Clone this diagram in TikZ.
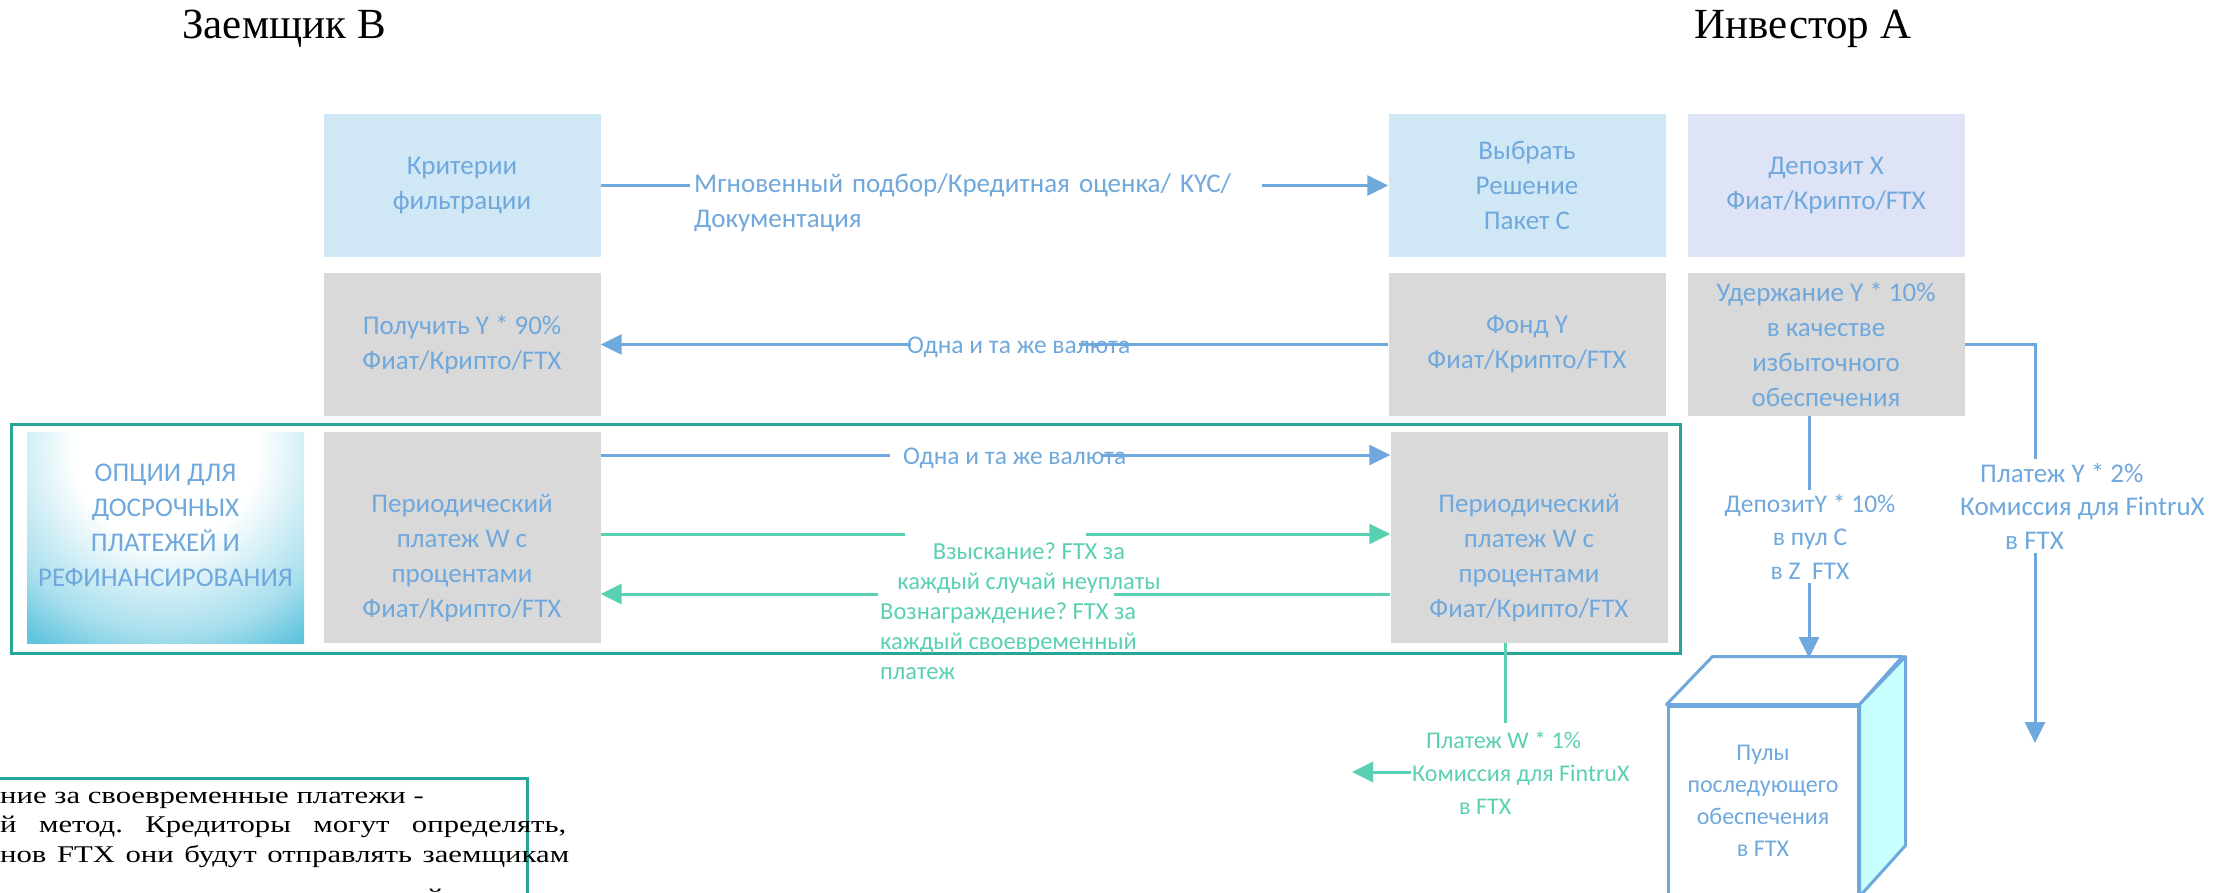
\documentclass[tikz,border=0pt]{standalone}
\usepackage{fontspec}
\setmainfont{Liberation Serif}
\newfontfamily\calib{Carlito}
\newfontfamily\notefont[FakeStretch=1.28]{Liberation Serif}
\usetikzlibrary{arrows.meta, positioning}
\definecolor{txtblue}{RGB}{111,168,220}
\definecolor{boxblue}{RGB}{208,232,246}
\definecolor{boxlilac}{RGB}{222,228,246}
\definecolor{boxgray}{RGB}{217,217,217}
\definecolor{mint}{RGB}{90,208,178}
\definecolor{framegreen}{RGB}{38,166,150}
\definecolor{cubecyan}{RGB}{200,255,255}
\definecolor{optcyan}{RGB}{96,196,222}
\pgfdeclareradialshading{optglow}{\pgfpointorigin}{color(0bp)=(white); color(5bp)=(white);
  color(10bp)=(optcyan!55!white); color(12.5bp)=(optcyan); color(50bp)=(optcyan)}
\frenchspacing

\begin{document}
\begin{tikzpicture}[x=1pt, y=-1pt,
    btxt/.style={text=txtblue, align=center, font=\calib\fontsize{27}{35}\selectfont},
    box/.style={btxt, minimum width=277pt, minimum height=143pt, inner sep=2pt},
    blbl/.style={text=txtblue, fill=white, inner sep=4pt, font=\calib\fontsize{27}{33.5}\selectfont},
    tlbl/.style={text=mint, inner sep=0pt, font=\calib\fontsize{24.5}{30}\selectfont},
    gap/.style={fill=white, inner sep=0pt, minimum height=9pt},
    barr/.style={draw=txtblue, line width=3pt, -{Triangle[length=21pt, width=20pt]}},
    tarr/.style={barr, draw=mint},
    headline/.style={font=\fontsize{43}{50}\selectfont, anchor=base}]
\useasboundingbox (0,0) rectangle (2230,893);
\clip (0,0) rectangle (2230,893);

\node[headline] (borrower) at (284,39) {Заемщик В};
\node[headline] (investor) at (1803,39) {Инвестор А};

% upper rows
\node[box, fill=boxblue] (crit) at (462,185.5) {Критерии\\фильтрации};
\node[box, fill=boxblue] (choose) at (1527,185.5) {Выбрать\\Решение\\Пакет С};
\node[box, fill=boxlilac] (depX) at (1826,185.5) {Депозит X\\Фиат/Крипто/FTX};
\node[box, fill=boxgray] (receive) at (462,344.5) {Получить Y * 90\%\\Фиат/Крипто/FTX};
\node[box, fill=boxgray] (fundY) at (1527,344.5) {Фонд Y\\Фиат/Крипто/FTX};
\node[box, fill=boxgray] (hold) at (1826,344.5) {Удержание Y * 10\%\\в качестве\\избыточного\\обеспечения};

% repayment row
\draw[framegreen, line width=3pt] (11,424) rectangle (1680,653);
\begin{scope}
  \clip (27,432) rectangle (304,643);
  \shade[shading=optglow] (166,450) circle (460);
\end{scope}
\node[btxt] (options) at (165.5,525.5) {ОПЦИИ ДЛЯ\\ДОСРОЧНЫХ\\ПЛАТЕЖЕЙ И\\РЕФИНАНСИРОВАНИЯ};
\node[box, fill=boxgray, minimum height=211pt,
  label={[btxt, yshift=-21pt]center:{Периодический\\платеж W с\\процентами\\Фиат/Крипто/FTX}}] (payL) at (462,537) {};
\node[box, fill=boxgray, minimum height=211pt,
  label={[btxt, yshift=-21pt]center:{Периодический\\платеж W с\\процентами\\Фиат/Крипто/FTX}}] (payR) at (1529,537) {};

% pool cube
\node[draw=txtblue, line width=3pt, fill=white, minimum width=190pt, minimum height=189pt,
  text=txtblue, align=center, font=\calib\fontsize{24}{32}\selectfont] (pool) at (1763,800.5)
  {Пулы\\последующего\\обеспечения\\в FTX};
\draw[txtblue, line width=3pt, line join=round, fill=white]
  (pool.north west) -- ++(46,-48) -- ++(190,0) -- (pool.north east) -- cycle;
\draw[txtblue, line width=3pt, line join=round, fill=cubecyan]
  (pool.north east) -- ++(46,-48) -- ++(0,189) -- (pool.south east) -- cycle;
\coordinate (pooltop) at (1809,658);
\coordinate (feeYend) at (2035,743);
\coordinate (feeWend) at (1352,772);

% connectors
\draw[barr] (crit) -- (choose);
\draw[barr] (fundY) -- (receive) node[gap, midway, minimum width=168pt] (gap1) {};
\draw[barr] ([yshift=82pt]payL.east) -- ([yshift=82pt]payR.west) node[gap, midway, minimum width=211pt] (gap2) {};
\draw[tarr] ([yshift=3pt]payL.east) -- ([yshift=3pt]payR.west) node[gap, midway, minimum width=181pt] (gap3) {};
\draw[tarr] ([yshift=-57pt]payR.west) -- ([yshift=-57pt]payL.east) node[gap, midway, minimum width=236pt] (gap4) {};
\draw[barr] (hold.south -| pooltop) -- (pooltop);
\draw[barr] (hold.east) -| (feeYend);
\draw[tarr] ([xshift=-24pt]payR.south) |- (feeWend);

% labels
\node[blbl, anchor=base west, text width=564pt, align=left, font=\calib\fontsize{27}{35}\selectfont] (match) at (690,192.5)
  {Мгновенный подбор/Кредитная оценка/ KYC/\\Документация};
\node[blbl, fill=none, inner sep=0pt, anchor=base west, font=\calib\fontsize{25.5}{30}\selectfont] (same1) at (907,353) {Одна и та же валюта};
\node[blbl, fill=none, inner sep=0pt, anchor=base west, font=\calib\fontsize{25.5}{30}\selectfont] (same2) at (903,464) {Одна и та же валюта};
\node[tlbl, anchor=base, align=center] (penalty) at (1029,589) {Взыскание? FTX за\\каждый случай неуплаты};
\node[tlbl, anchor=base west, align=left] (reward) at (880,679) {Вознаграждение? FTX за\\каждый своевременный\\платеж};
\node[blbl, anchor=base, align=center, font=\calib\fontsize{25.5}{33.5}\selectfont] (depoC) at (1810,579)
  {ДепозитY * 10\%\\в пул С\\в Z\ \ FTX};
\node[blbl, anchor=base west, align=left] (feeY) at (1956,549)
  {\hspace*{20pt}Платеж Y * 2\%\\Комиссия для FintruX\\\hspace*{45pt}в FTX};
\node[tlbl, fill=white, anchor=base west, align=left, inner xsep=1pt, inner ysep=8pt, font=\calib\fontsize{24}{33}\selectfont] (feeW) at (1411,814)
  {\hspace*{14pt}Платеж W * 1\%\\Комиссия для FintruX\\\hspace*{47pt}в FTX};

% note
\draw[framegreen, line width=3pt] (-10,778) rectangle (527,910);
\node[anchor=base west, align=left, inner sep=0pt, font=\notefont\fontsize{24}{29.5}\selectfont] (note) at (0,862)
  {ние за своевременные платежи -\\
   \makebox[566pt][s]{й метод. Кредиторы могут определять,}\\
   \makebox[569pt][s]{нов FTX они будут отправлять заемщикам}};
\node[anchor=base west, inner sep=0pt, font=\notefont\fontsize{24}{29.5}\selectfont] (notetail) at (427,905) {й};
\end{tikzpicture}
\end{document}
